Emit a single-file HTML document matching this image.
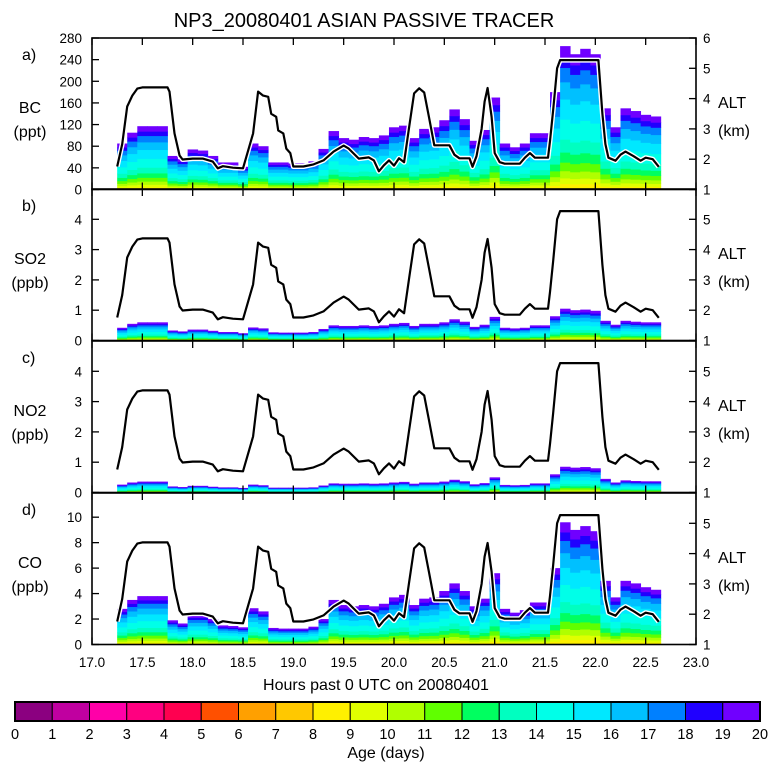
<!DOCTYPE html>
<html><head><meta charset="utf-8"><style>
body{margin:0;background:#fff;}
svg{display:block;font-family:"Liberation Sans",sans-serif;}
</style></head><body>
<svg id="chart" width="768" height="768" viewBox="0 0 768 768">
<text x="364" y="27" font-size="20" text-anchor="middle">NP3_20080401 ASIAN PASSIVE TRACER</text>
<g id="plots"></g>
<text x="376" y="690" font-size="16" text-anchor="middle">Hours past 0 UTC on 20080401</text>
<g id="cbar"></g>
<text x="386" y="758" font-size="16" text-anchor="middle">Age (days)</text>
</svg>
<script>
// ---- data ----
const binStart = 17.25, binWidth = 0.1;
const bcValues = [85,105,117,117,117,62,56,74,72,62, 50,50,42,85,80,50,50,48,48,52, 75,108,95,92,97,95,100,115,118,95, 112,115,128,148,130,90,110,170,85,78, 85,104,104,180,265,250,260,250,150,115, 150,145,138,135];
const so2Values = [0.42,0.55,0.6,0.6,0.6,0.33,0.3,0.36,0.36,0.32, 0.28,0.28,0.24,0.43,0.4,0.27,0.26,0.26,0.26,0.28, 0.38,0.5,0.48,0.48,0.5,0.48,0.5,0.55,0.58,0.48, 0.55,0.55,0.6,0.7,0.62,0.45,0.52,0.78,0.42,0.4, 0.42,0.5,0.5,0.8,1.05,1.0,1.02,0.98,0.65,0.52, 0.65,0.62,0.6,0.6];
const no2Values = [0.26,0.33,0.36,0.36,0.36,0.2,0.18,0.22,0.22,0.19, 0.17,0.17,0.15,0.26,0.24,0.16,0.16,0.16,0.16,0.17, 0.23,0.3,0.29,0.29,0.3,0.29,0.3,0.33,0.35,0.29, 0.33,0.33,0.36,0.42,0.37,0.27,0.31,0.5,0.25,0.24, 0.25,0.3,0.3,0.6,0.85,0.82,0.84,0.8,0.45,0.33, 0.4,0.38,0.37,0.37];
const coValues = [2.8,3.5,3.8,3.8,3.8,1.9,1.65,2.3,2.3,2.0, 1.5,1.45,1.35,2.85,2.6,1.3,1.25,1.25,1.25,1.4, 2.0,3.5,3.1,3.0,3.1,3.0,3.2,3.7,3.9,3.1, 3.6,3.7,4.2,4.8,4.2,3.0,3.6,5.6,2.8,2.5, 2.7,3.3,3.3,6.0,9.6,9.0,9.3,8.9,5.0,3.7, 5.0,4.8,4.5,4.3];
const ageBins = [8,9,10,11,12,13,14,15,16,17,18,19];
const ageFractions = [0.04,0.04,0.05,0.06,0.07,0.09,0.14,0.14,0.12,0.10,0.07,0.08];
const altProfile = [[17.25,1.76],[17.3,2.5],[17.35,3.74],[17.4,4.1],[17.45,4.33],[17.5,4.37],[17.75,4.37],[17.77,4.23],[17.82,2.85],[17.87,2.12],[17.9,1.99],[18.0,2.02],[18.1,2.02],[18.2,1.92],[18.25,1.7],[18.3,1.77],[18.4,1.72],[18.5,1.7],[18.6,2.85],[18.65,4.23],[18.7,4.1],[18.75,4.06],[18.78,3.5],[18.83,3.4],[18.85,2.95],[18.9,2.85],[18.93,2.35],[18.97,2.2],[19.0,1.76],[19.1,1.76],[19.2,1.83],[19.3,1.96],[19.4,2.25],[19.5,2.45],[19.55,2.35],[19.65,2.02],[19.75,2.06],[19.8,1.96],[19.85,1.6],[19.9,1.8],[19.95,1.96],[20.0,1.79],[20.05,2.03],[20.1,1.9],[20.15,3.05],[20.2,4.17],[20.25,4.34],[20.3,4.2],[20.35,3.35],[20.4,2.46],[20.46,2.46],[20.55,2.46],[20.6,2.15],[20.65,2.03],[20.75,2.03],[20.78,1.75],[20.82,2.1],[20.87,3.0],[20.9,3.9],[20.93,4.35],[20.97,3.4],[21.0,2.2],[21.05,1.9],[21.1,1.85],[21.25,1.85],[21.3,2.05],[21.35,2.2],[21.4,2.05],[21.53,2.05],[21.55,2.6],[21.58,3.6],[21.62,5.0],[21.65,5.27],[22.03,5.27],[22.07,3.5],[22.1,2.5],[22.13,2.05],[22.2,1.95],[22.25,2.15],[22.3,2.25],[22.38,2.1],[22.45,1.95],[22.5,2.05],[22.57,2.0],[22.63,1.75]];
const xTicks = ["17.0","17.5","18.0","18.5","19.0","19.5","20.0","20.5","21.0","21.5","22.0","22.5","23.0"];
const bcTicks = [0,40,80,120,160,200,240,280];
const ppbTicks = [0,1,2,3,4];
const coTicks = [0,2,4,6,8,10];
const altTicksA = [1,2,3,4,5,6];
const altTicksB = [1,2,3,4,5];
const ageColors = ["#8b0080","#c000a0","#ff00a8","#ff0080","#ff0050","#ff5000","#ffa000","#ffc800","#fff000","#e0ff00","#b0ff00","#60ff00","#00ff60","#00ffc0","#00ffe8","#00e8ff","#00c0ff","#0080ff","#2000ff","#7000ff"];
const ageLabels = ["0","1","2","3","4","5","6","7","8","9","10","11","12","13","14","15","16","17","18","19","20"];

// ---- layout ----
const NS = "http://www.w3.org/2000/svg";
const X0 = 92, X1 = 696;
const xPix = t => X0 + (t - 17) * (X1 - X0) / 6;
function mk(tag, attrs, parent) {
  const e = document.createElementNS(NS, tag);
  for (const k in attrs) e.setAttribute(k, attrs[k]);
  parent.appendChild(e);
  return e;
}
const panels = [
  {id:"a", label:"a)", name:"BC", unit:"(ppt)", top:38, max:280, vals:bcValues, ticks:bcTicks, altTicks:altTicksA},
  {id:"b", label:"b)", name:"SO2", unit:"(ppb)", top:189, max:5.0, vals:so2Values, ticks:ppbTicks, altTicks:altTicksB},
  {id:"c", label:"c)", name:"NO2", unit:"(ppb)", top:341, max:5.0, vals:no2Values, ticks:ppbTicks, altTicks:altTicksB},
  {id:"d", label:"d)", name:"CO", unit:"(ppb)", top:493, max:11.9, vals:coValues, ticks:coTicks, altTicks:altTicksB}
];
const H = 151.5;
const plots = document.getElementById("plots");
panels.forEach(p => {
  const g = mk("g", {}, plots);
  
  
  const bot = p.top + H;
  const yPix = v => bot - v / p.max * H;
  const altPix = a => bot - (a - 1) / 5 * H;
  p.vals.forEach((v, i) => {
    const t0 = binStart + i * binWidth;
    const xa = xPix(t0), xb = xPix(t0 + binWidth);
    let cum = 0;
    ageBins.forEach((age, k) => {
      const y1 = yPix(v * cum);
      cum += ageFractions[k];
      const y2 = yPix(v * cum);
      const r = mk("rect", {x:xa.toFixed(2), y:y2.toFixed(2), width:(xb-xa+0.4).toFixed(2), height:(y1-y2+0.4).toFixed(2), fill:ageColors[age]}, g);
      
      
    });
  });
  const d = altProfile.map((pt, i) => (i ? "L" : "M") + xPix(pt[0]).toFixed(1) + "," + altPix(pt[1]).toFixed(1)).join("");
  const halo = mk("path", {d:d, fill:"none", stroke:"#fff", "stroke-width":5, "stroke-linejoin":"round"}, g);
  
  
  const line = mk("path", {d:d, fill:"none", stroke:"#000", "stroke-width":2.2, "stroke-linejoin":"round"}, g);
  
  
  const fr = mk("rect", {x:X0, y:p.top, width:X1-X0, height:H, fill:"none", stroke:"#000", "stroke-width":1.6}, g);
  
  
  xTicks.forEach(lab => {
    const x = xPix(parseFloat(lab));
    mk("line", {x1:x, y1:p.top, x2:x, y2:p.top+7, stroke:"#000", "stroke-width":1.3}, g);
    mk("line", {x1:x, y1:bot, x2:x, y2:bot-7, stroke:"#000", "stroke-width":1.3}, g);
  });
  p.ticks.forEach(v => {
    const y = yPix(v);
    mk("line", {x1:X0, y1:y, x2:X0+7, y2:y, stroke:"#000", "stroke-width":1.3}, g);
    const tx = mk("text", {x:82, y:y+5, "font-size":13.5, "text-anchor":"end"}, g);
    tx.textContent = v;
    
    
  });
  p.altTicks.forEach(a => {
    const y = altPix(a);
    mk("line", {x1:X1, y1:y, x2:X1-7, y2:y, stroke:"#000", "stroke-width":1.3}, g);
    const tx = mk("text", {x:703, y:y+5, "font-size":13.5}, g);
    tx.textContent = a;
    
    
  });
  const lbl = mk("text", {x:22, y:p.top+22, "font-size":16}, g);
  lbl.textContent = p.label;
  
  
  const nm = mk("text", {x:30, y:p.top+75, "font-size":16, "text-anchor":"middle"}, g);
  nm.textContent = p.name;
  
  
  const un = mk("text", {x:30, y:p.top+99, "font-size":16, "text-anchor":"middle"}, g);
  un.textContent = p.unit;
  
  
  const al = mk("text", {x:718, y:p.top+70, "font-size":16}, g);
  al.textContent = "ALT";
  
  
  const ak = mk("text", {x:718, y:p.top+98, "font-size":16}, g);
  ak.textContent = "(km)";
  
  
});
xTicks.forEach(lab => {
  const tx = mk("text", {x:xPix(parseFloat(lab)), y:667, "font-size":13.5, "text-anchor":"middle"}, plots);
  tx.textContent = lab;
  
  
});
const cb = document.getElementById("cbar");
const CB0 = 15, CB1 = 760, cw = (CB1 - CB0) / ageColors.length;
ageColors.forEach((c, i) => {
  const r = mk("rect", {x:CB0 + i*cw, y:702, width:cw, height:19, fill:c, stroke:"#000", "stroke-width":1}, cb);
  
  
});
mk("rect", {x:CB0, y:702, width:CB1-CB0, height:19, fill:"none", stroke:"#000", "stroke-width":2}, cb);
ageLabels.forEach((l, i) => {
  const tx = mk("text", {x:CB0 + i*cw, y:739, "font-size":14.5, "text-anchor":"middle"}, cb);
  tx.textContent = l;
  
  
});
</script>
</body></html>
